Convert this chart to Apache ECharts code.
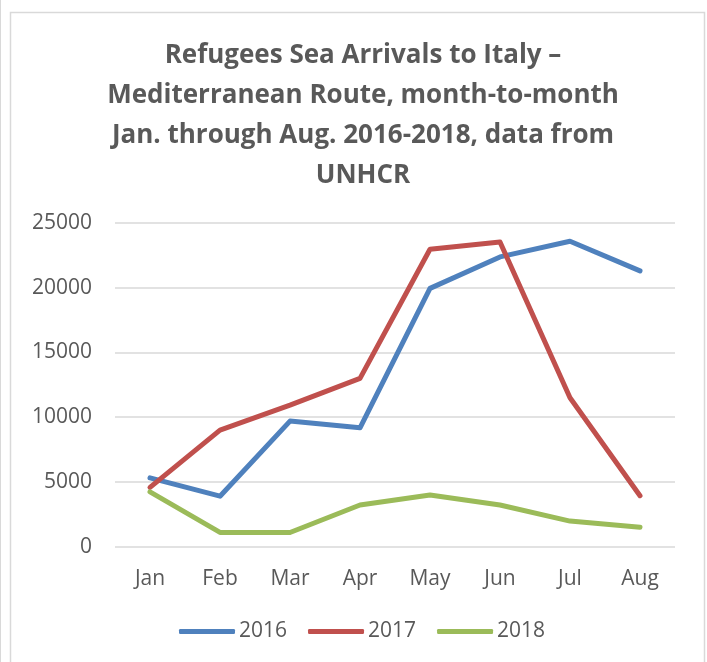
<!DOCTYPE html>
<html><head><meta charset="utf-8">
<script src="https://cdn.jsdelivr.net/npm/echarts@6/dist/echarts.min.js"></script>
<style>html,body{margin:0;padding:0;background:#fff}#c{width:707px;height:662px}</style>
</head><body><div id="c"></div>
<script>
const months = ['Jan','Feb','Mar','Apr','May','Jun','Jul','Aug'];
const s2016 = [5320, 3900, 9700, 9180, 19950, 22380, 23590, 21300];
const s2017 = [4580, 9000, 10930, 13000, 22970, 23530, 11500, 3940];
const s2018 = [4240, 1100, 1100, 3220, 3990, 3220, 1980, 1500];
const yTicks = [0, 5000, 10000, 15000, 20000, 25000];
const FONT = 'Open Sans';
const TXT = '#595959';
const chart = echarts.init(document.getElementById('c'));
const mk = (name, data, color) => ({
  name, type: 'line', data, symbol: 'none', smooth: false,
  lineStyle: {width: 5, color, cap: 'round', join: 'round'},
  itemStyle: {color}
});
chart.setOption({
  animation: false,
  textStyle: {fontFamily: FONT},
  graphic: [
    {type: 'rect', shape: {x: 10.5, y: 12.5, width: 694, height: 660}, style: {fill: 'none', stroke: '#d9d9d9', lineWidth: 1.5}},
    {type: 'rect', shape: {x: 0.5, y: 0, width: 0, height: 662}, style: {fill: 'none', stroke: '#d9d9d9', lineWidth: 1}}
  ],
  title: {
    text: 'Refugees Sea Arrivals to Italy –\nMediterranean Route, month-to-month\nJan. through Aug. 2016-2018, data from\nUNHCR',
    left: 358, top: 31, textAlign: 'center',
    textStyle: {fontFamily: FONT, fontWeight: 'bold', fontSize: 26, lineHeight: 40, color: TXT}
  },
  grid: {left: 115, right: 32, top: 223, bottom: 662 - 546.7},
  xAxis: {
    type: 'category', data: months, boundaryGap: true,
    axisLine: {show: false}, axisTick: {show: false},
    axisLabel: {color: TXT, fontSize: 21, margin: 22, fontFamily: FONT}
  },
  yAxis: {
    type: 'value', min: 0, max: 25000, interval: 5000,
    axisLine: {show: false}, axisTick: {show: false},
    axisLabel: {color: TXT, fontSize: 21, margin: 23, fontFamily: FONT, formatter: v => yTicks.includes(v) ? String(v) : ''},
    splitLine: {lineStyle: {color: '#d9d9d9', width: 1.5}}
  },
  legend: {
    data: ['2016','2017','2018'], left: 174, top: 616,
    icon: 'roundRect', itemWidth: 56, itemHeight: 5, itemGap: 21,
    textStyle: {color: TXT, fontSize: 21, fontFamily: FONT, padding: [0,0,0,-1]}
  },
  series: [mk('2016', s2016, '#4F81BD'), mk('2017', s2017, '#C0504D'), mk('2018', s2018, '#9BBB59')]
});
</script></body></html>
